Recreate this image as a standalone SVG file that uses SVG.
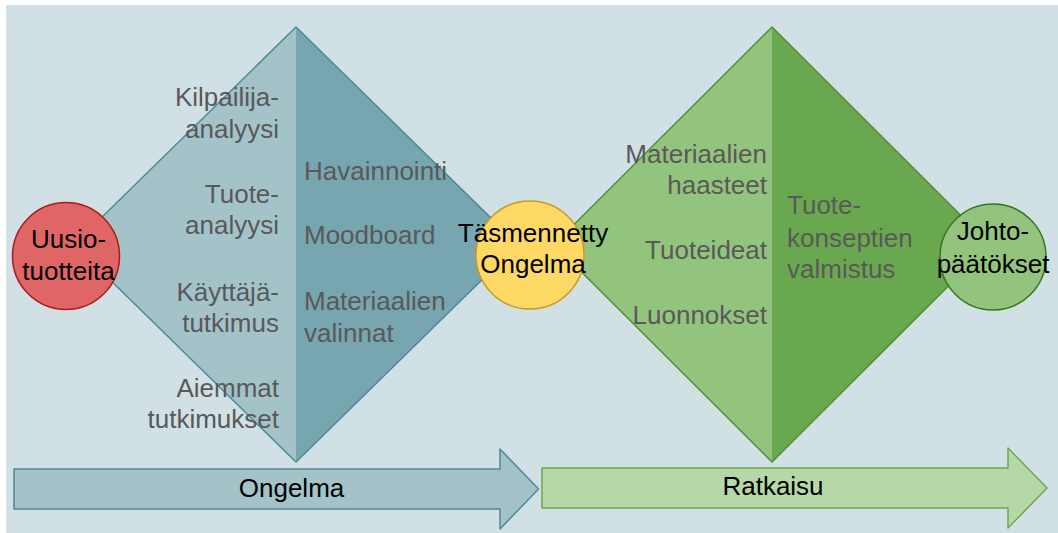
<svg xmlns="http://www.w3.org/2000/svg" width="1058" height="533" viewBox="0 0 1058 533">
  <style>
    .lbl { font-family: "Liberation Sans", Arial, sans-serif; font-size: 26px; fill: #595959; }
    .ctr { font-family: "Liberation Sans", Arial, sans-serif; font-size: 26px; fill: #000000; text-anchor: middle; }
    .r { text-anchor: end; }
    .bstroke { stroke: #4d8a98; stroke-width: 1.5; stroke-linejoin: round; }
    .gstroke { stroke: #4e8f34; stroke-width: 1.5; stroke-linejoin: round; }
  </style>
  <rect x="6" y="5" width="1052" height="528" fill="#d1e0e4"/>

  <g id="diamond-ongelma">
    <polygon points="296,27 74,244.5 296,462" fill="#a3c3c9"/>
    <polygon points="296,27 518,244.5 296,462" fill="#77a6b0"/>
    <polygon points="296,27 518,244.5 296,462 74,244.5" fill="none" class="bstroke"/>
    <text class="lbl r" x="279" y="106">Kilpailija-</text>
    <text class="lbl r" x="279" y="138">analyysi</text>
    <text class="lbl r" x="279" y="203">Tuote-</text>
    <text class="lbl r" x="279" y="234">analyysi</text>
    <text class="lbl r" x="279" y="301">Käyttäjä-</text>
    <text class="lbl r" x="279" y="332">tutkimus</text>
    <text class="lbl r" x="279" y="397">Aiemmat</text>
    <text class="lbl r" x="279" y="428">tutkimukset</text>
    <text class="lbl" x="304" y="180">Havainnointi</text>
    <text class="lbl" x="304" y="244">Moodboard</text>
    <text class="lbl" x="304" y="310">Materiaalien</text>
    <text class="lbl" x="304" y="342">valinnat</text>
  </g>

  <g id="diamond-ratkaisu">
    <polygon points="772,27 554,244.5 772,462" fill="#93c47d"/>
    <polygon points="772,27 990,244.5 772,462" fill="#6aa84f"/>
    <polygon points="772,27 990,244.5 772,462 554,244.5" fill="none" class="gstroke"/>
    <text class="lbl r" x="767" y="163">Materiaalien</text>
    <text class="lbl r" x="767" y="194">haasteet</text>
    <text class="lbl r" x="767" y="259">Tuoteideat</text>
    <text class="lbl r" x="767" y="324">Luonnokset</text>
    <text class="lbl" x="787" y="214">Tuote-</text>
    <text class="lbl" x="787" y="247">konseptien</text>
    <text class="lbl" x="787" y="278">valmistus</text>
  </g>

  <g id="arrow-ongelma">
    <polygon points="14,469 500,469 500,449 538.5,489 500,529 500,509 14,509" fill="#a3c3c9" class="bstroke"/>
    <text class="ctr" x="291.5" y="497">Ongelma</text>
  </g>

  <g id="arrow-ratkaisu">
    <polygon points="542,468 1008,468 1008,448 1047,488 1008,528 1008,508 542,508" fill="#b6d7a8" stroke="#6aa84f" stroke-width="1.5" stroke-linejoin="round"/>
    <text class="ctr" x="773" y="495">Ratkaisu</text>
  </g>

  <g id="node-uusiotuotteita">
    <circle cx="66" cy="256" r="53.5" fill="#e06666" stroke="#a61c1c" stroke-width="1.5"/>
    <text class="ctr" x="68.5" y="248">Uusio-</text>
    <text class="ctr" x="68.5" y="280">tuotteita</text>
  </g>

  <g id="node-tasmennetty">
    <circle cx="530" cy="255" r="54" fill="#ffd966" stroke="#c99a1e" stroke-width="1.5"/>
    <text class="ctr" x="533" y="242">Täsmennetty</text>
    <text class="ctr" x="533" y="273">Ongelma</text>
  </g>

  <g id="node-johtopaatokset">
    <circle cx="993" cy="257" r="53" fill="#93c47d" stroke="#38761d" stroke-width="1.5"/>
    <text class="ctr" x="993" y="240">Johto-</text>
    <text class="ctr" x="993" y="273">päätökset</text>
  </g>

  <g id="connectors"></g>
</svg>
